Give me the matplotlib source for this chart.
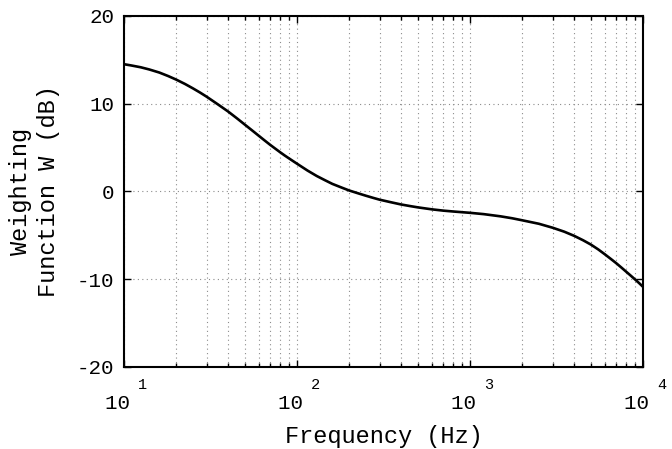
import numpy as np
import matplotlib
matplotlib.use('Agg')
import matplotlib.pyplot as plt

# weighting curve (Hz, dB)
freq_hz = [10, 11, 12.5, 14, 16, 18, 20, 22.5, 25, 27.5, 30, 35, 40, 45, 50, 55,
           60, 65, 70, 75, 80, 85, 90, 100, 115, 130, 145, 160, 180, 200, 225,
           250, 275, 300, 350, 400, 450, 500, 600, 700, 800, 900, 1000, 1200,
           1500, 1750, 2000, 2500, 3000, 3500, 4000, 4500, 5000, 5500, 6000,
           6500, 7000, 7500, 8000, 8500, 9000, 9500, 10000]
weight_db = [14.5, 14.36, 14.15, 13.9, 13.55, 13.15, 12.75, 12.25, 11.75, 11.27,
             10.8, 9.9, 9.1, 8.32, 7.6, 6.95, 6.35, 5.8, 5.3, 4.86, 4.45, 4.08,
             3.75, 3.15, 2.37, 1.75, 1.27, 0.85, 0.45, 0.1, -0.22, -0.5, -0.74,
             -0.95, -1.25, -1.5, -1.68, -1.83, -2.05, -2.2, -2.3, -2.38, -2.45,
             -2.6, -2.85, -3.07, -3.3, -3.7, -4.15, -4.6, -5.08, -5.58, -6.08,
             -6.62, -7.17, -7.7, -8.2, -8.7, -9.18, -9.63, -10.06, -10.48, -10.9]

x_ticks = [10, 100, 1000, 10000]
x_exponents = ['1', '2', '3', '4']
y_ticks = [-20, -10, 0, 10, 20]

FONT = 'Liberation Mono'

fig = plt.figure(figsize=(6.72, 4.49), dpi=100)
ax = fig.add_axes([0.1845, 0.1833, 0.957 - 0.1845, 0.9644 - 0.1833])

ax.plot(freq_hz, weight_db, color='black', lw=1.9, solid_capstyle='round',
        solid_joinstyle='round')

ax.set_xscale('log')
ax.set_xlim(10, 10000)
ax.set_ylim(-20, 20)
ax.set_yticks(y_ticks)
ax.set_yticklabels([str(v) for v in y_ticks], family=FONT, fontsize=15)
# trailing space pushes "10" left of the tick, exponent hangs off to the right
ax.set_xticks(x_ticks)
ax.set_xticklabels(['10 '] * len(x_ticks), family=FONT, fontsize=15)
for xt, ex in zip(x_ticks, x_exponents):
    ax.annotate(ex, xy=(xt, 0), xycoords=('data', 'axes fraction'),
                xytext=(10, -8), textcoords='offset points',
                ha='left', va='top', family=FONT, fontsize=11)

ax.grid(True, which='major', axis='both', color='#8c8c8c', lw=0.8, ls=(0, (1, 3)))
ax.grid(True, which='minor', axis='x', color='#8c8c8c', lw=0.8, ls=(0, (1, 3)))

ax.tick_params(which='both', direction='in', top=True, right=True, width=1.0)
ax.tick_params(which='major', length=5, pad=7)
ax.tick_params(axis='x', which='major', pad=20)
ax.tick_params(which='minor', length=3)
for sp in ax.spines.values():
    sp.set_linewidth(1.5)

ax.set_xlabel('Frequency (Hz)', family=FONT, fontsize=17, labelpad=8)
ax.set_ylabel('Weighting\nFunction W (dB)', family=FONT, fontsize=17,
              linespacing=1.3, labelpad=12)

fig.savefig('out.png', dpi=100)
